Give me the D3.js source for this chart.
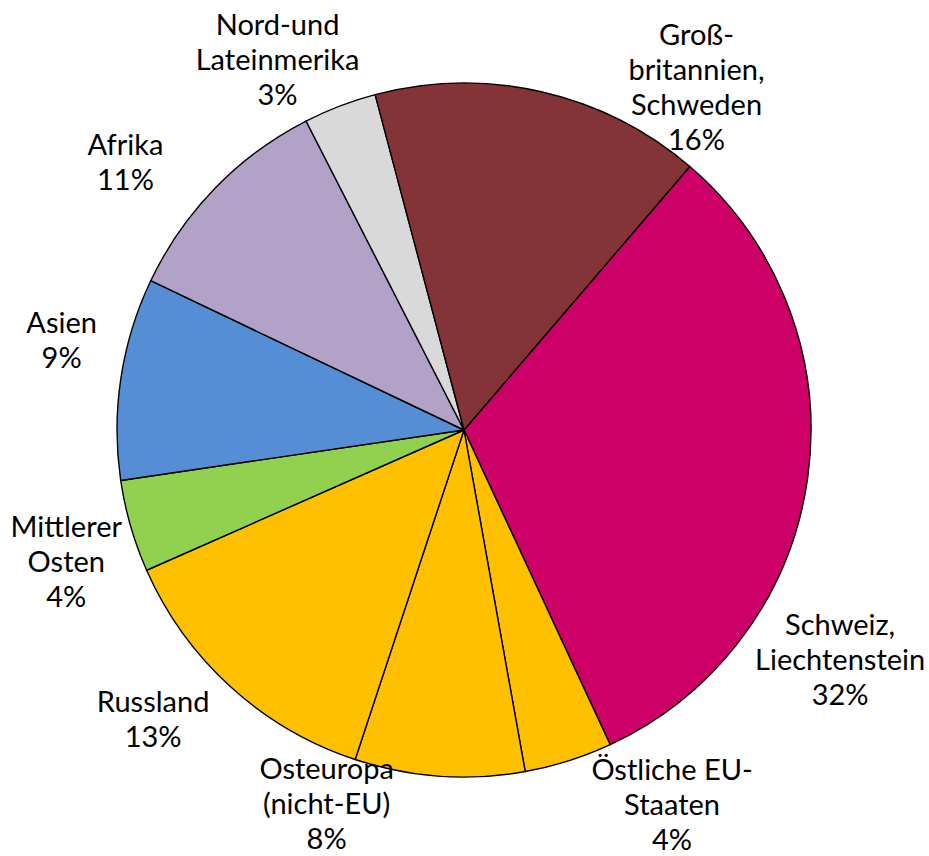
<!DOCTYPE html>
<html>
<head>
<meta charset="utf-8">
<script src="https://cdn.jsdelivr.net/npm/d3@7"></script>
<style>
  html, body { margin: 0; padding: 0; background: white; }
</style>
</head>
<body>
<div id="chart"></div>
<script>
  // slices in clockwise order, starting with Schweiz
  var categories = [
    "Schweiz,\nLiechtenstein",
    "Östliche EU-\nStaaten",
    "Osteuropa\n(nicht-EU)",
    "Russland",
    "Mittlerer\nOsten",
    "Asien",
    "Afrika",
    "Nord-und\nLateinmerika",
    "Groß-\nbritannien,\nSchweden"
  ];
  // shares
  var shares = [31.8, 4.1, 7.9, 13.3, 4.3, 9.4, 10.4, 3.4, 15.4];
  // the percentages printed in the chart
  var percentLabels = ["32%", "4%", "8%", "13%", "4%", "9%", "11%", "3%", "16%"];
  var sliceColors = ["#CC0066", "#FFC000", "#FFC000", "#FFC000", "#92D050",
                     "#558ED5", "#B3A2C7", "#D9D9D9", "#843437"];

  // label nudges from the outer label ring (layout only)
  var labelNudge = [[-35, 173], [83, -21], [-108, -40], [-32, -18], [1, 17],
                    [8, -28], [-41, 22], [-38, 18], [140, 62]];

  var width = 929,
    height = 856,
    cx = 464,
    cy = 430,
    radius = 347,
    labelRadius = 415,
    lineHeight = 35;

  var svg = d3.select("#chart").append("svg")
    .attr("width", width)
    .attr("height", height)
    .style("background-color", "white");

  var g = svg.append("g")
    .attr("transform", "translate(" + cx + "," + cy + ")");

  // first slice starts about 40.6 degrees clockwise from 12 o'clock
  var start = 40.6 * Math.PI / 180;
  var pie = d3.pie()
    .sort(null)
    .startAngle(start)
    .endAngle(start + 2 * Math.PI)
    .value(function(d) { return d; });

  var arcs = pie(shares);

  var arc = d3.arc().innerRadius(0).outerRadius(radius);
  var labelArc = d3.arc().innerRadius(labelRadius).outerRadius(labelRadius);

  g.selectAll("path.slice")
    .data(arcs)
    .enter().append("path")
    .attr("class", "slice")
    .attr("d", arc)
    .attr("fill", function(d, i) { return sliceColors[i]; })
    .attr("stroke", "#000")
    .attr("stroke-width", 1.4)
    .attr("stroke-linejoin", "round");

  // labels: category lines + percent
  var labels = g.selectAll("text.label")
    .data(arcs)
    .enter().append("text")
    .attr("class", "label")
    .attr("text-anchor", "middle")
    .style("font-family", "Lato, 'Open Sans', sans-serif")
    .style("font-size", "29px")
    .style("fill", "#000");

  labels.each(function(d, i) {
    var lines = categories[i].split("\n").concat([percentLabels[i]]);
    var c = labelArc.centroid(d);
    var x = c[0] + labelNudge[i][0];
    var y = c[1] + labelNudge[i][1];
    // vertically centre the block on (x, y)
    var firstBaseline = y - (lines.length - 1) * lineHeight / 2 + 10;
    var t = d3.select(this);
    lines.forEach(function(line, k) {
      t.append("tspan")
        .attr("x", x)
        .attr("y", firstBaseline + k * lineHeight)
        .text(line);
    });
  });
</script>
</body>
</html>
